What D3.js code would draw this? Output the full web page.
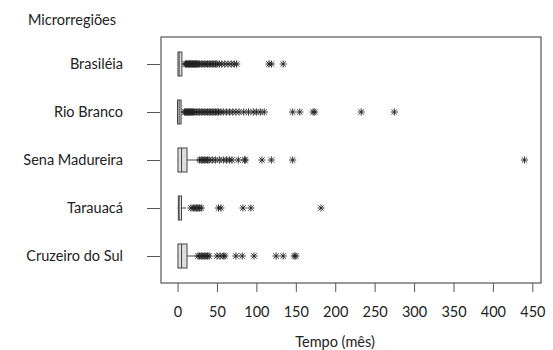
<!DOCTYPE html>
<html>
<head>
<meta charset="utf-8">
<script src="https://cdn.jsdelivr.net/npm/d3@7"></script>
<style>
  body { margin: 0; background: #fff; }
  text { font-family: Lato, "Open Sans", sans-serif; fill: #222; }
</style>
</head>
<body>
<div id="chart"></div>
<script>
// Tempo (mês) por microrregião
const categories = ["Brasiléia", "Rio Branco", "Sena Madureira", "Tarauacá", "Cruzeiro do Sul"];
const whiskerLow = [0, 0, 0, 0, 0];
const q1 = [0.5, 0, 0.5, 1, 0.5];
const median = [2, 2, 5, 2, 5];
const q3 = [5.5, 4.5, 12, 5, 12];
const whiskerHigh = [9, 8, 27, 11, 24];
const outBrasileia = [10, 11, 12, 13, 14, 15, 16, 17, 18, 19, 20, 21, 22, 23, 24, 25, 26, 28, 30, 32, 34, 36, 38, 40,
  42, 44, 46, 48, 50, 53, 56, 60, 64, 68, 72, 75, 116, 119, 134];
const outRioBranco = [9, 10, 11, 12, 13, 14, 15, 16, 17, 18, 19, 20, 22, 24, 26, 28, 30, 32, 34, 36, 38, 40, 42, 44,
  46, 48, 50, 52, 55, 58, 62, 66, 70, 74, 78, 84, 90, 96, 100, 105, 110, 146, 155, 172, 174, 233, 275];
const outSenaMadureira = [28, 30, 32, 34, 36, 38, 40, 44, 48, 53, 58, 62, 66, 69, 77, 85, 86, 107, 119, 146, 440];
const outTarauaca = [17, 20, 22, 24, 26, 28, 30, 52, 55, 83, 93, 182];
const outCruzeiro = [26, 28, 30, 32, 34, 36, 38, 40, 50, 54, 58, 60, 74, 82, 97, 125, 134, 148, 150];
const outliers = [outBrasileia, outRioBranco, outSenaMadureira, outTarauaca, outCruzeiro];
const xTicks = [0, 50, 100, 150, 200, 250, 300, 350, 400, 450];

const width = 553, height = 350;
const frame = { left: 161, right: 541, top: 37, bottom: 283 };
const fontSize = 14.5;

const svg = d3.select("#chart").append("svg")
  .attr("width", width)
  .attr("height", height);

const x = d3.scaleLinear()
  .domain([-21, 461])
  .range([frame.left, frame.right]);

const y = d3.scalePoint()
  .domain(categories)
  .range([64, 256]);

// plot frame
svg.append("rect")
  .attr("x", frame.left)
  .attr("y", frame.top)
  .attr("width", frame.right - frame.left)
  .attr("height", frame.bottom - frame.top)
  .attr("fill", "none")
  .attr("stroke", "#555")
  .attr("stroke-width", 1.2);

// x axis
const xAxis = d3.axisBottom(x).tickValues(xTicks).tickSize(9).tickPadding(15);
const gx = svg.append("g")
  .attr("transform", `translate(0, ${frame.bottom})`)
  .call(xAxis);
gx.select(".domain").remove();
gx.selectAll("line").attr("stroke", "#555");
gx.selectAll("text").attr("font-size", fontSize).attr("fill", "#222");

// y axis
const yAxis = d3.axisLeft(y).tickSize(13).tickPadding(24);
const gy = svg.append("g")
  .attr("transform", `translate(${frame.left - 1}, 0)`)
  .call(yAxis);
gy.select(".domain").remove();
gy.selectAll("line").attr("stroke", "#555");
gy.selectAll("text").attr("font-size", fontSize).attr("fill", "#222");

svg.append("text")
  .attr("x", 28)
  .attr("y", 25)
  .attr("font-size", fontSize)
  .text("Microrregiões");

svg.append("text")
  .attr("x", 335)
  .attr("y", 347)
  .attr("text-anchor", "middle")
  .attr("font-size", fontSize)
  .text("Tempo (mês)");

// boxes
const boxH = 24;
const g = svg.append("g");
categories.forEach((c, i) => {
  const cy = y(c);
  g.append("line")
    .attr("x1", x(whiskerLow[i])).attr("x2", x(q1[i]))
    .attr("y1", cy).attr("y2", cy)
    .attr("stroke", "#444");
  g.append("line")
    .attr("x1", x(q3[i])).attr("x2", x(whiskerHigh[i]))
    .attr("y1", cy).attr("y2", cy)
    .attr("stroke", "#444");
  g.append("rect")
    .attr("x", x(q1[i]))
    .attr("y", cy - boxH / 2)
    .attr("width", x(q3[i]) - x(q1[i]))
    .attr("height", boxH)
    .attr("fill", "#ddd")
    .attr("stroke", "#444");
  g.append("line")
    .attr("x1", x(median[i])).attr("x2", x(median[i]))
    .attr("y1", cy - boxH / 2).attr("y2", cy + boxH / 2)
    .attr("stroke", "#444");
});

// outliers: asterisk (plus + x)
const r = 3.6;
const star = `M${-r},0L${r},0M0,${-r}L0,${r}M${-r * 0.75},${-r * 0.75}L${r * 0.75},${r * 0.75}M${-r * 0.75},${r * 0.75}L${r * 0.75},${-r * 0.75}`;
categories.forEach((c, i) => {
  g.selectAll(null)
    .data(outliers[i])
    .enter()
    .append("path")
    .attr("d", star)
    .attr("transform", d => `translate(${x(d)}, ${y(c)})`)
    .attr("fill", "none")
    .attr("stroke", "#222")
    .attr("stroke-width", 0.9);
});
</script>
</body>
</html>
